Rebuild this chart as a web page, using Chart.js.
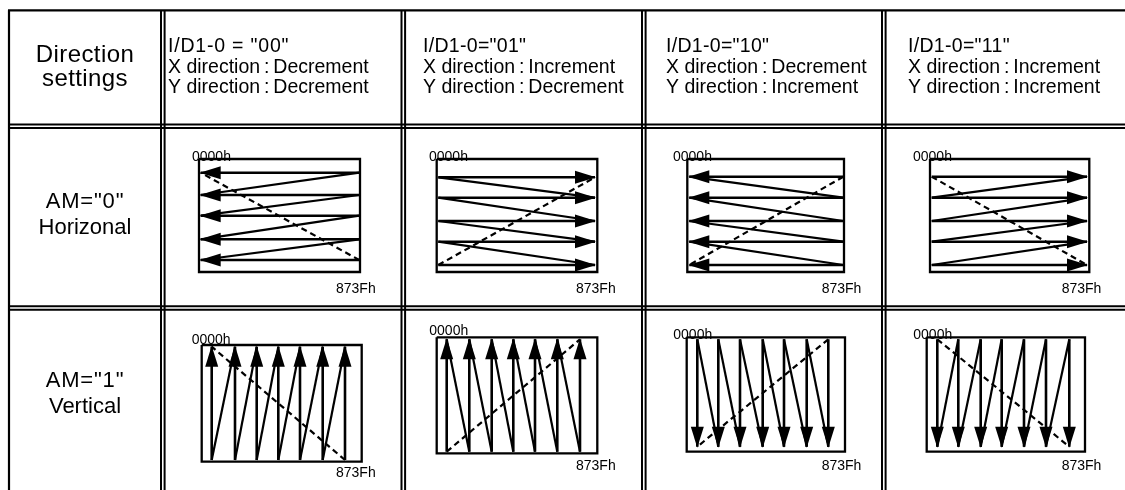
<!DOCTYPE html>
<html>
<head>
<meta charset="utf-8">
<script src="https://cdn.jsdelivr.net/npm/chart.js@4.4.1/dist/chart.umd.min.js"></script>
<style>
  html, body { margin: 0; padding: 0; background: #fff; }
  #wrap { width: 1125px; height: 490px; }
</style>
</head>
<body>
<div id="wrap"><canvas id="scan" width="1125" height="490"></canvas></div>
<script>
// ── Data ────────────────────────────────────────────────────

const cornerLabel = ["Direction", "settings"];
const codeLabels = ['I/D1-0 = "00"', 'I/D1-0="01"', 'I/D1-0="10"', 'I/D1-0="11"'];
const xDirection = ["Decrement", "Increment", "Decrement", "Increment"];
const yDirection = ["Decrement", "Decrement", "Increment", "Increment"];
const modeLabels = [['AM="0"', "Horizonal"], ['AM="1"', "Vertical"]];
const startAddress = "0000h";
const endAddress = "873Fh";

// horizontal mode: y of the 5 scan lines, and their left/right ends, per column
const hScanY = [
  [172.7, 195, 215.7, 239.3, 260],
  [177.3, 197.7, 221, 241.7, 265],
  [176.7, 197.7, 221, 241.7, 265],
  [176.7, 197.7, 221, 241.7, 265],
];
const hScanX = [[200.7, 359.3], [438.3, 595], [689.3, 843.3], [931.7, 1087]];

// vertical mode: x of the 7 scan lines, and their top/bottom ends, per column
const vScanX = [
  [211.7, 235, 256.7, 278.3, 300, 322.7, 345],
  [446.7, 469.3, 491.7, 513.3, 535, 557.3, 580],
  [697.3, 718.3, 740, 762.7, 784, 806.7, 828.3],
  [937.3, 958.3, 980.7, 1001.7, 1024, 1046, 1069.3],
];
const vScanY = [[346.7, 460], [339.3, 451.7], [339.3, 446.7], [339.3, 446.7]];

// ── Layout ──────────────────────────────────────────────────

const table = { left: 9, top: 10.3, right: 1125, bottom: 490, cols: [161, 401.5, 642, 882], rows: [124.5, 306.2], gap: 3.6 };
const headerTextX = [168, 423, 666, 908];
const headerBaselines = [51.7, 72.7, 93.3];
const hBoxes = [[199, 159, 360, 272], [436.7, 159, 597.3, 272], [687.3, 159, 844, 272], [930, 159, 1089.3, 272]];
const vBoxes = [[201.7, 345, 361.7, 461.7], [436.7, 337.3, 597.3, 453.3], [686.7, 337.3, 845, 451.7], [926.7, 337.3, 1085, 451.7]];
const hStartAt = [[192, 161], [429, 161], [673, 161], [913, 161]];
const hEndAt = [[336, 292.5], [576, 292.5], [821.7, 292.5], [1061.7, 292.5]];
const vStartAt = [[191.7, 343.5], [429.3, 335], [673.3, 339], [913.3, 339]];
const vEndAt = [[336, 477], [576, 470], [821.7, 470], [1061.7, 470]];

const FONT = '"Liberation Sans", Arial, Helvetica, sans-serif';

// ── Datasets ────────────────────────────────────────────────

function seg(points, opts = {}) {
  return {
    data: points.map(([x, y]) => ({ x, y })),
    showLine: true,
    borderColor: "#000",
    borderWidth: opts.width || 2.2,
    borderDash: opts.dash || [],
    borderCapStyle: "butt",
    pointRadius: 0,
    pointHoverRadius: 0,
    fill: false,
    tension: 0,
    arrow: !!opts.arrow,
  };
}

function boxOf([x0, y0, x1, y1]) {
  return seg([[x0, y0], [x1, y0], [x1, y1], [x0, y1], [x0, y0]], { width: 2.3 });
}

const datasets = [];

// table grid
datasets.push(seg([[table.left - 1, table.top], [table.right, table.top]], { width: 2.2 }));
datasets.push(seg([[table.left, table.top], [table.left, table.bottom]], { width: 2.2 }));
table.cols.forEach((c) => {
  datasets.push(seg([[c, table.top], [c, table.bottom]], { width: 2 }));
  datasets.push(seg([[c + table.gap, table.top], [c + table.gap, table.bottom]], { width: 2 }));
});
table.rows.forEach((r) => {
  datasets.push(seg([[table.left, r], [table.right, r]], { width: 2 }));
  datasets.push(seg([[table.left, r + table.gap], [table.right, r + table.gap]], { width: 2 }));
});

// horizontal scans (AM="0")
hScanY.forEach((ys, i) => {
  const [xl, xr] = hScanX[i];
  const inc = xDirection[i] === "Increment";
  const order = yDirection[i] === "Increment" ? ys : [...ys].reverse();
  const start = inc ? xl : xr;
  const end = inc ? xr : xl;
  datasets.push(boxOf(hBoxes[i]));
  order.forEach((y) => datasets.push(seg([[start, y], [end, y]], { arrow: true, width: 2.6 })));
  for (let k = 0; k < order.length - 1; k++) {
    datasets.push(seg([[end, order[k]], [start, order[k + 1]]], { width: 2.2 }));
  }
  datasets.push(seg([[start, order[0]], [end, order[order.length - 1]]], { dash: [6, 4], width: 2.2 }));
});

// vertical scans (AM="1")
vScanX.forEach((xs, i) => {
  const [yt, yb] = vScanY[i];
  const inc = yDirection[i] === "Increment";
  const order = xDirection[i] === "Increment" ? xs : [...xs].reverse();
  const start = inc ? yt : yb;
  const end = inc ? yb : yt;
  datasets.push(boxOf(vBoxes[i]));
  order.forEach((x) => datasets.push(seg([[x, start], [x, end]], { arrow: true, width: 2.6 })));
  for (let k = 0; k < order.length - 1; k++) {
    datasets.push(seg([[order[k], end], [order[k + 1], start]], { width: 2.2 }));
  }
  datasets.push(seg([[order[0], start], [order[order.length - 1], end]], { dash: [6, 4], width: 2.2 }));
});

// ── Plugins ─────────────────────────────────────────────────

// Filled arrowhead at the last point of every dataset flagged with arrow: true
const arrowHeads = {
  id: "arrowHeads",
  afterDatasetsDraw(chart) {
    const ctx = chart.ctx;
    chart.data.datasets.forEach((ds, i) => {
      if (!ds.arrow) return;
      const pts = chart.getDatasetMeta(i).data;
      const a = pts[pts.length - 2];
      const b = pts[pts.length - 1];
      const ang = Math.atan2(b.y - a.y, b.x - a.x);
      const len = 20;
      const half = 6.5;
      ctx.save();
      ctx.translate(b.x, b.y);
      ctx.rotate(ang);
      ctx.beginPath();
      ctx.moveTo(1, 0);
      ctx.lineTo(-len, -half);
      ctx.lineTo(-len, half);
      ctx.closePath();
      ctx.fillStyle = "#000";
      ctx.fill();
      ctx.restore();
    });
  },
};

// All table text, placed through the chart scales
const tableText = {
  id: "tableText",
  beforeDatasetsDraw(chart) {
    const { ctx, scales } = chart;
    const put = (str, x, y, size, align = "left", spacing = "0px") => {
      ctx.font = `${size}px ${FONT}`;
      ctx.textAlign = align;
      ctx.textBaseline = "alphabetic";
      ctx.letterSpacing = spacing;
      ctx.fillText(str, scales.x.getPixelForValue(x), scales.y.getPixelForValue(y));
    };
    ctx.save();
    ctx.fillStyle = "#000";
    const mid = (table.left + table.cols[0]) / 2;
    put(cornerLabel[0], mid, 62, 24, "center", "0.4px");
    put(cornerLabel[1], mid, 86, 24, "center", "0.4px");
    codeLabels.forEach((code, i) => {
      put(code, headerTextX[i], headerBaselines[0], 19.5, "left", i === 0 ? "0.8px" : "0.3px");
      put("X direction\u2009:\u2009" + xDirection[i], headerTextX[i], headerBaselines[1], 19.5);
      put("Y direction\u2009:\u2009" + yDirection[i], headerTextX[i], headerBaselines[2], 19.5);
    });
    put(modeLabels[0][0], mid, 208.3, 22, "center", "0.8px");
    put(modeLabels[0][1], mid, 234, 22, "center");
    put(modeLabels[1][0], mid, 386.7, 22, "center", "0.8px");
    put(modeLabels[1][1], mid, 413, 22, "center");
    for (let i = 0; i < 4; i++) {
      put(startAddress, hStartAt[i][0], hStartAt[i][1], 14);
      put(endAddress, hEndAt[i][0], hEndAt[i][1], 14);
      put(startAddress, vStartAt[i][0], vStartAt[i][1], 14);
      put(endAddress, vEndAt[i][0], vEndAt[i][1], 14);
    }
    ctx.restore();
  },
};

// ── Chart ───────────────────────────────────────────────────

new Chart(document.getElementById("scan"), {
  type: "scatter",
  data: { datasets },
  options: {
    responsive: false,
    animation: false,
    events: [],
    layout: { padding: 0 },
    scales: {
      x: { type: "linear", min: 0, max: 1125, display: false },
      y: { type: "linear", min: 0, max: 490, reverse: true, display: false },
    },
    plugins: { legend: { display: false }, tooltip: { enabled: false } },
  },
  plugins: [tableText, arrowHeads],
});
</script>
</body>
</html>
